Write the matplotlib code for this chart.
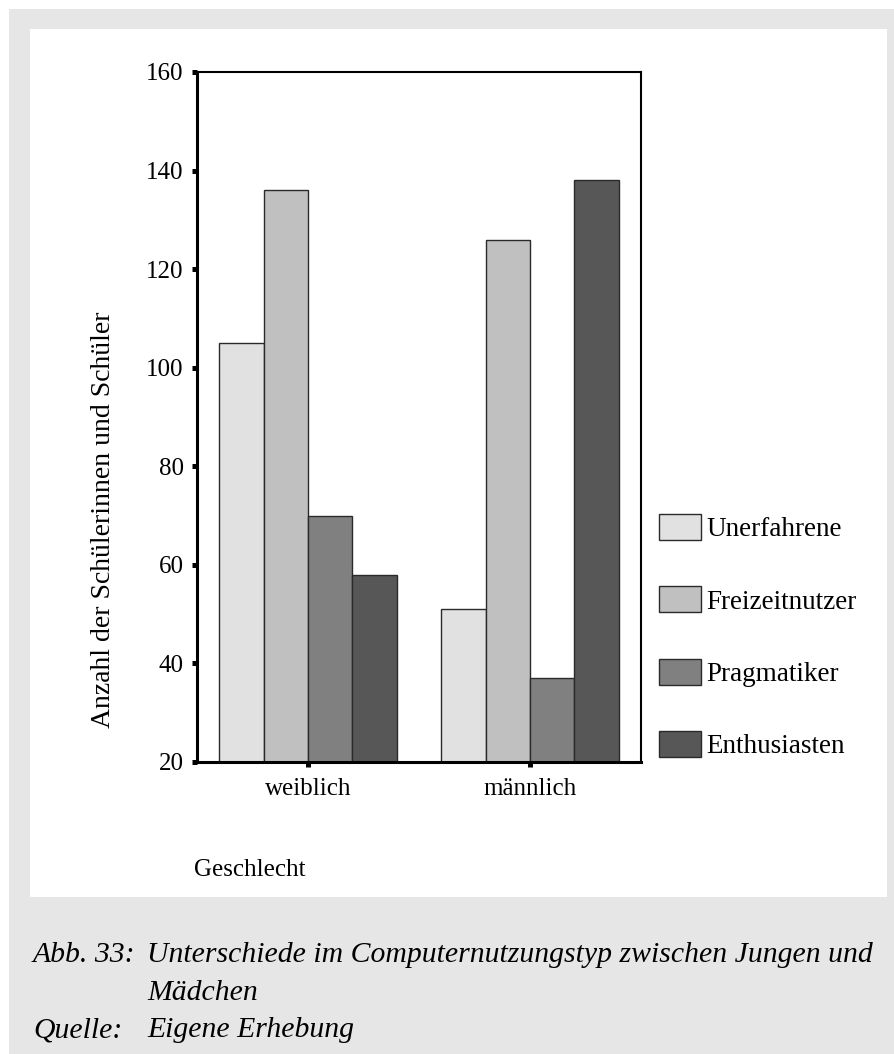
import matplotlib
matplotlib.use('Agg')
import matplotlib.pyplot as plt
from matplotlib.patches import Rectangle, Patch
import numpy as np

plt.rcParams['font.family'] = ['Liberation Serif', 'DejaVu Serif']

# Anzahl je Nutzungstyp, getrennt nach Geschlecht
groups = ['weiblich', 'männlich']
types = ['Unerfahrene', 'Freizeitnutzer', 'Pragmatiker', 'Enthusiasten']
unerfahrene = [105, 51]
freizeitnutzer = [136, 126]
pragmatiker = [70, 37]
enthusiasten = [58, 138]
yticks = [20, 40, 60, 80, 100, 120, 140, 160]

colors = ['#e1e1e1', '#c0c0c0', '#808080', '#575757']
edge = '#2a2a2a'

W, H = 895, 1054
fig = plt.figure(figsize=(W / 100, H / 100), dpi=100)
fig.patch.set_facecolor('white')


def box(x0, y0, x1, y1):
    # pixel box (top-left origin) -> figure fraction rect
    return [x0 / W, 1 - y1 / H, (x1 - x0) / W, (y1 - y0) / H]


# grauer Rahmen + weisses Feld
r = box(9, 9, W, H)
fig.patches.append(Rectangle((r[0], r[1]), r[2], r[3], transform=fig.transFigure,
                             facecolor='#e6e6e6', edgecolor='none', zorder=-2))
r = box(30, 29, 887, 897)
fig.patches.append(Rectangle((r[0], r[1]), r[2], r[3], transform=fig.transFigure,
                             facecolor='white', edgecolor='none', zorder=-1))

ax = fig.add_axes(box(197, 72, 641, 762))
ax.set_facecolor('white')

x = np.arange(len(groups))
width = 0.2
series = [unerfahrene, freizeitnutzer, pragmatiker, enthusiasten]
for i, (vals, name) in enumerate(zip(series, types)):
    ax.bar(x + (i - 1.5) * width, vals, width, color=colors[i], edgecolor=edge,
           linewidth=1.0, label=name)

ax.set_xlim(-0.5, 1.5)
ax.set_ylim(20, 160)
ax.set_yticks(yticks)
ax.set_xticks(x)
ax.set_xticklabels(groups)

for side in ['left', 'bottom']:
    ax.spines[side].set_linewidth(2.2)
for side in ['top', 'right']:
    ax.spines[side].set_linewidth(1.5)
ax.tick_params(axis='both', direction='out', length=3.6, width=3.6, labelsize=18, color='black')
ax.tick_params(axis='y', pad=6)
ax.tick_params(axis='x', pad=8)

handles = [Patch(facecolor=c, edgecolor=edge, linewidth=1.0) for c in colors]
fig.legend(handles, types, loc='upper left', bbox_to_anchor=(659 / W, 1 - 514 / H),
           frameon=False, fontsize=19.5, handlelength=1.55, handleheight=1.1,
           handletextpad=0.2, labelspacing=1.63, borderpad=0, borderaxespad=0)

fig.text(104 / W, 1 - 520 / H, 'Anzahl der Schülerinnen und Schüler', rotation=90,
         ha='center', va='center', fontsize=20)
fig.text(194 / W, 1 - 870 / H, 'Geschlecht', ha='left', va='center', fontsize=18)

# Bildunterschrift
cap = dict(fontsize=21.4, style='italic', va='center', ha='left')
fig.text(33 / W, 1 - 955 / H, 'Abb. 33:', **cap)
fig.text(147 / W, 1 - 955 / H, 'Unterschiede im Computernutzungstyp zwischen Jungen und', **cap)
fig.text(147 / W, 1 - 993 / H, 'Mädchen', **cap)
fig.text(33 / W, 1 - 1030 / H, 'Quelle:', **cap)
fig.text(147 / W, 1 - 1030 / H, 'Eigene Erhebung', **cap)

fig.savefig('out.png', dpi=100)
